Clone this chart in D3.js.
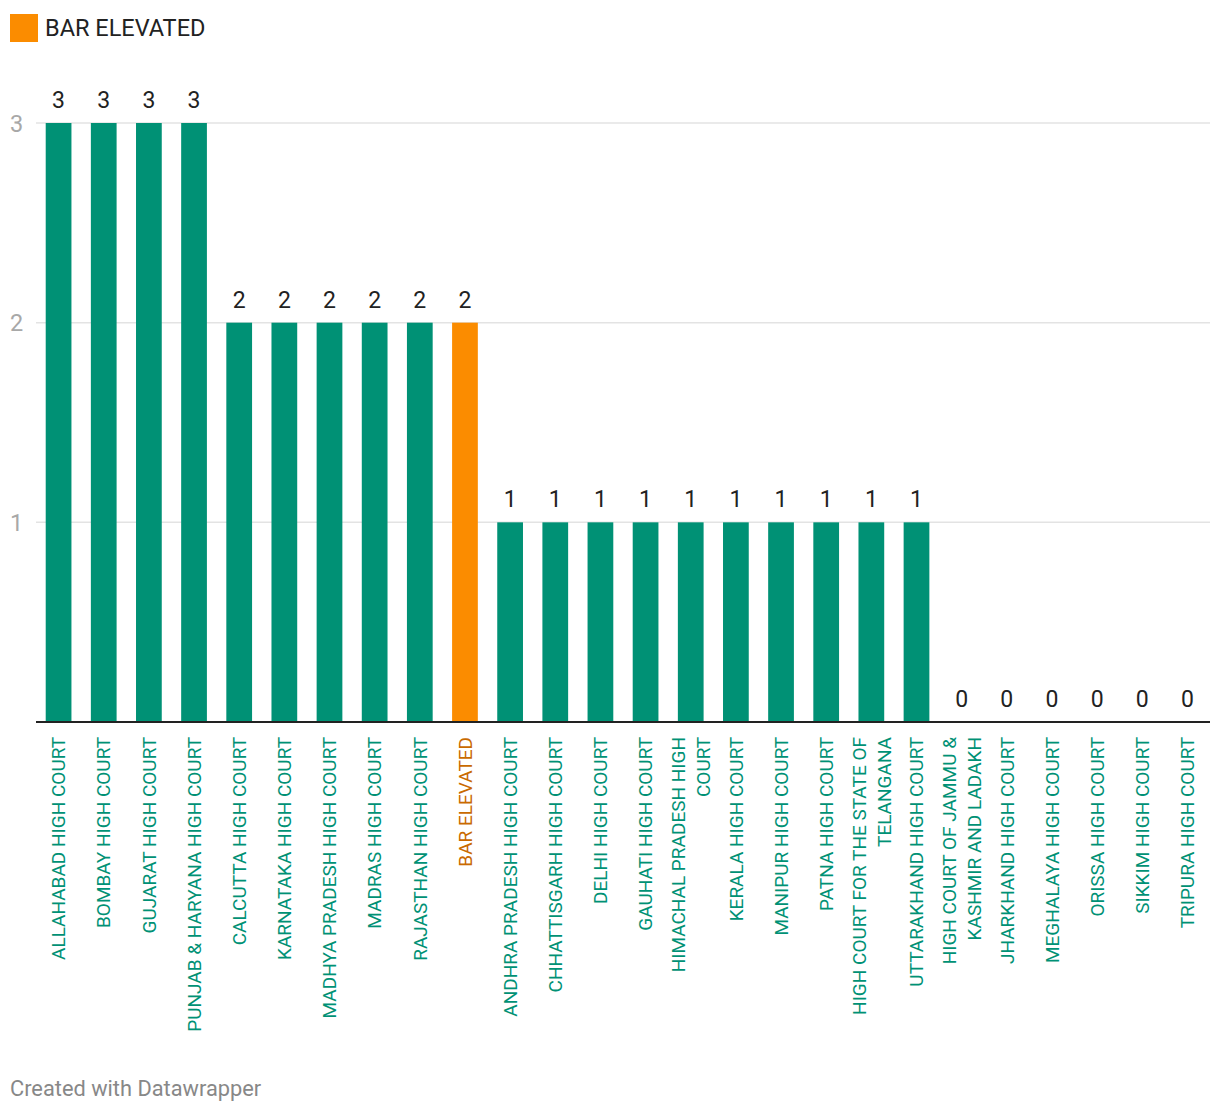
<!DOCTYPE html>
<html>
<head>
<meta charset="utf-8">
<script src="https://cdn.jsdelivr.net/npm/d3@7"></script>
<style>
  html, body { margin: 0; padding: 0; background: #fff; }
  svg { display: block; font-family: Roboto, "Noto Sans", sans-serif; }
</style>
</head>
<body>
<svg id="chart" width="1220" height="1114"></svg>
<script>
const categories = [
  "ALLAHABAD HIGH COURT", "BOMBAY HIGH COURT", "GUJARAT HIGH COURT",
  "PUNJAB & HARYANA HIGH COURT", "CALCUTTA HIGH COURT", "KARNATAKA HIGH COURT",
  "MADHYA PRADESH HIGH COURT", "MADRAS HIGH COURT", "RAJASTHAN HIGH COURT",
  "BAR ELEVATED", "ANDHRA PRADESH HIGH COURT", "CHHATTISGARH HIGH COURT",
  "DELHI HIGH COURT", "GAUHATI HIGH COURT", "HIMACHAL PRADESH HIGH COURT",
  "KERALA HIGH COURT", "MANIPUR HIGH COURT", "PATNA HIGH COURT",
  "HIGH COURT FOR THE STATE OF TELANGANA", "UTTARAKHAND HIGH COURT",
  "HIGH COURT OF JAMMU & KASHMIR AND LADAKH", "JHARKHAND HIGH COURT",
  "MEGHALAYA HIGH COURT", "ORISSA HIGH COURT", "SIKKIM HIGH COURT",
  "TRIPURA HIGH COURT"
];
const values = [3, 3, 3, 3, 2, 2, 2, 2, 2, 2, 1, 1, 1, 1, 1, 1, 1, 1, 1, 1, 0, 0, 0, 0, 0, 0];
const highlighted = ["BAR ELEVATED"];
const yTicks = [1, 2, 3];
const legendLabel = "BAR ELEVATED";
const footerText = "Created with Datawrapper";

const GREEN = "#009175", ORANGE = "#fb8c00", ORANGE_TEXT = "#c96a00";
const svg = d3.select("#chart");

const x = d3.scaleBand().domain(categories).range([36, 1210])
  .paddingInner(0.43).paddingOuter(0.215);
const y = d3.scaleLinear().domain([0, 3]).range([722, 123]);

// legend
svg.append("rect").attr("x", 10).attr("y", 14).attr("width", 28).attr("height", 28).attr("fill", ORANGE);
svg.append("text").attr("x", 45).attr("y", 36).attr("font-size", 23.5).attr("fill", "#222").text(legendLabel);

// grid
svg.append("g").selectAll("line").data(yTicks).join("line")
  .attr("x1", 36).attr("x2", 1210)
  .attr("y1", d => y(d)).attr("y2", d => y(d))
  .attr("stroke", "#e3e3e3").attr("stroke-width", 1.5);
svg.append("g").selectAll("text").data(yTicks).join("text")
  .attr("x", 10).attr("y", d => y(d) + 8.5)
  .attr("font-size", 23.5).attr("fill", "#a8a8a8").text(d => d);

// bars
svg.append("g").selectAll("rect").data(categories).join("rect")
  .attr("x", d => x(d)).attr("width", x.bandwidth())
  .attr("y", (d, i) => y(values[i]))
  .attr("height", (d, i) => y(0) - y(values[i]))
  .attr("fill", d => highlighted.includes(d) ? ORANGE : GREEN);

// value labels
svg.append("g").selectAll("text").data(categories).join("text")
  .attr("x", d => x(d) + x.bandwidth() / 2)
  .attr("y", (d, i) => y(values[i]) - 15)
  .attr("text-anchor", "middle").attr("font-size", 23).attr("fill", "#222")
  .text((d, i) => values[i]);

// baseline
svg.append("line").attr("x1", 36).attr("x2", 1210).attr("y1", y(0)).attr("y2", y(0))
  .attr("stroke", "#222").attr("stroke-width", 2);

// category labels (rotated, wrapped)
const FS = 19, LH = 25, MAXW = 297;
const measurer = svg.append("text").attr("font-size", FS).attr("visibility", "hidden");
function wrap(label) {
  const words = label.split(" ");
  const lines = [];
  let cur = "";
  for (const w of words) {
    const test = cur ? cur + " " + w : w;
    measurer.text(test);
    if (cur && measurer.node().getComputedTextLength() > MAXW) {
      lines.push(cur); cur = w;
    } else cur = test;
  }
  if (cur) lines.push(cur);
  return lines;
}
const labelG = svg.append("g");
categories.forEach(c => {
  const lines = wrap(c);
  const cx = x(c) + x.bandwidth() / 2;
  const t = labelG.append("text")
    .attr("transform", `translate(${cx},737) rotate(-90)`)
    .attr("text-anchor", "end").attr("font-size", FS)
    .attr("fill", highlighted.includes(c) ? ORANGE_TEXT : GREEN);
  lines.forEach((ln, k) => {
    const off = (k - (lines.length - 1) / 2) * LH + FS * 0.355;
    t.append("tspan").attr("x", 0).attr("y", off).text(ln);
  });
});
measurer.remove();

// footer
svg.append("text").attr("x", 10).attr("y", 1096).attr("font-size", 21.8).attr("fill", "#888").text(footerText);
</script>
</body>
</html>
